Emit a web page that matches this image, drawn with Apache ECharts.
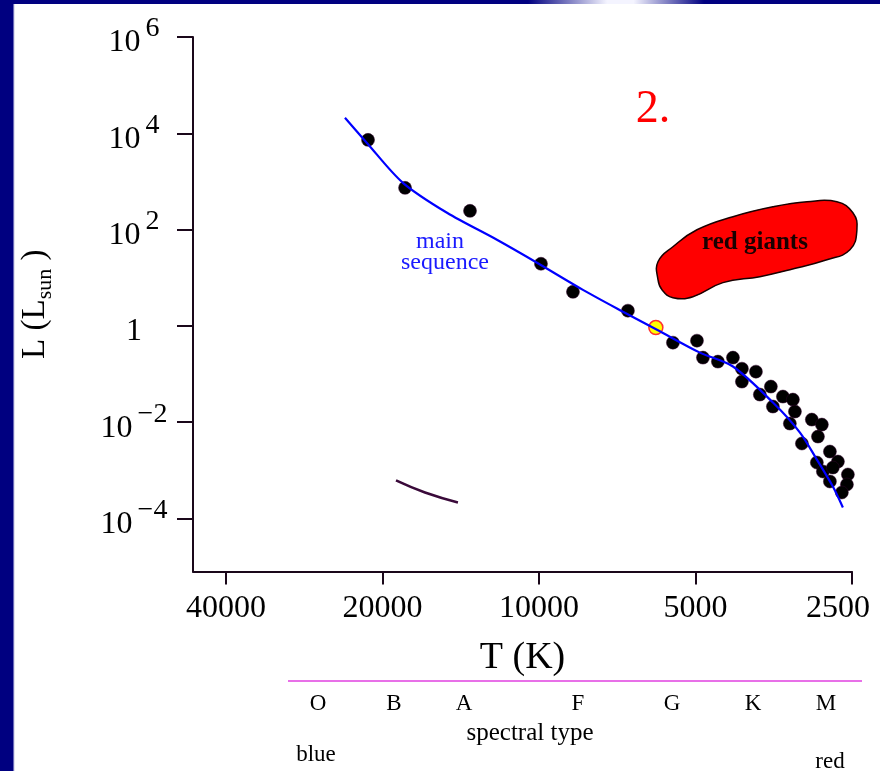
<!DOCTYPE html>
<html>
<head>
<meta charset="utf-8">
<script src="https://cdn.jsdelivr.net/npm/echarts@6/dist/echarts.min.js"></script>
<style>html,body{margin:0;padding:0;background:#fff}#c{width:880px;height:771px}</style>
</head>
<body>
<div id="c"></div>
<script>
// ---- data (temperature in K, luminosity in L_sun) ----
const xTicks = [40000, 20000, 10000, 5000, 2500];
const yTicks = [1e-4, 1e-2, 1, 1e2, 1e4, 1e6];
const xRange = [2500, 46300];
const yRange = [7.9e-6, 1e6];

const mainSeqT = [23620, 21430, 18270, 15030, 12050, 10090, 8232, 6895, 5930, 4903, 4236, 3548, 3148, 2921, 2721, 2603];
const mainSeqL = [21000, 6300, 935, 223, 61.4, 20.5, 5.6, 1.97, 0.83, 0.278, 0.143, 0.0255, 0.00608, 0.00167, 0.00046, 0.000169];

const starT = [21325, 18100, 13575, 9913, 8604, 6745, 5526, 4968, 4838, 4528, 4236, 4071, 3826, 4071, 3581, 3760, 3395, 3248, 3549, 3219, 2987, 2857, 3292, 2907, 3121, 2757, 2661, 2921, 2844, 2721, 2546, 2557, 2757, 2615];
const starL = [7300, 736, 245, 19.5, 5.1, 2.07, 0.448, 0.493, 0.219, 0.181, 0.219, 0.129, 0.112, 0.0695, 0.0548, 0.0374, 0.034, 0.0294, 0.0211, 0.0166, 0.0113, 0.0089, 0.00935, 0.00502, 0.0036, 0.00245, 0.00152, 0.00145, 0.000944, 0.00114, 0.000818, 0.000507, 0.000586, 0.000346];

const sunT = [5960];
const sunL = [0.92];

const giantsT = [5904, 5904, 5526, 4968, 4236, 3549, 3052, 2673, 2490, 2446, 2523, 2794, 3292, 3760, 4429, 5057, 5526, 5800];
const giantsL = [9.1, 21.5, 44, 99, 185, 297, 378, 378, 223, 99, 38, 23.6, 14.7, 10.5, 7.9, 4.04, 3.85, 5.6];

const dwarfT = [18840, 16570, 14320];
const dwarfL = [6.14e-4, 3.46e-4, 2.15e-4];

const spectralTypes = ['O', 'B', 'A', 'F', 'G', 'K', 'M'];

// ---- helpers ----
const lg = Math.log10;
const pairs = (T, L) => T.map((t, i) => [lg(t), lg(L[i])]);
const SERIF = '"Liberation Serif", "Times New Roman", serif';
const AX = '#1a081a';

const chart = echarts.init(document.getElementById('c'));

const spectralX = [318, 394, 464, 578, 672, 753, 826];

const option = {
  backgroundColor: '#ffffff',
  animation: false,
  grid: { left: 193, right: 28, top: 37, bottom: 199.5, containLabel: false, outerBoundsMode: 'none' },
  xAxis: {
    type: 'value', inverse: true,
    min: lg(xRange[0]), max: lg(xRange[1]),
    splitLine: { show: false },
    axisLine: { show: true, onZero: false, lineStyle: { color: AX, width: 2 } },
    axisTick: { show: true, inside: false, length: 13, lineStyle: { color: AX, width: 2 }, customValues: xTicks.map(lg) },
    axisLabel: {
      customValues: xTicks.map(lg), margin: 21,
      formatter: v => {
        const t = Math.round(Math.pow(10, v));
        return (t === xTicks[xTicks.length - 1] ? '{e|' : '{t|') + t + '}';
      },
      rich: {
        t: { fontFamily: SERIF, fontSize: 32, color: '#000' },
        e: { fontFamily: SERIF, fontSize: 32, color: '#000', padding: [0, 28, 0, 0] }
      }
    },
    name: 'T (K)', nameLocation: 'middle', nameGap: 68,
    nameTextStyle: { fontFamily: SERIF, fontSize: 38, color: '#000' }
  },
  yAxis: {
    type: 'value',
    min: lg(yRange[0]), max: lg(yRange[1]),
    splitLine: { show: false },
    axisLine: { show: true, onZero: false, lineStyle: { color: AX, width: 2 } },
    axisTick: { show: true, inside: false, length: 16, lineStyle: { color: AX, width: 2 }, customValues: yTicks.map(lg) },
    axisLabel: {
      customValues: yTicks.map(lg), margin: 59, align: 'center', padding: [12, 0, 0, 0],
      formatter: v => {
        const e = Math.round(v);
        if (e === 0) return '{b|1}';
        return '{b|10}{s|' + (e < 0 ? '\u2212' + (-e) : String(e)) + '}';
      },
      rich: {
        b: { fontFamily: SERIF, fontSize: 32, lineHeight: 32, color: '#000', verticalAlign: 'bottom' },
        s: { fontFamily: SERIF, fontSize: 28, lineHeight: 28, color: '#000', verticalAlign: 'bottom', padding: [0, 0, 16, 5] }
      }
    },
    name: '{n|L (L}{u|sun}{n| )}', nameLocation: 'middle', nameGap: 141, nameRotate: 90,
    nameTextStyle: {
      rich: {
        n: { fontFamily: SERIF, fontSize: 33, lineHeight: 40, color: '#000', verticalAlign: 'bottom' },
        u: { fontFamily: SERIF, fontSize: 22, lineHeight: 22, color: '#000', verticalAlign: 'bottom', padding: [0, 0, -4, 0] }
      }
    }
  },
  series: [
    {
      type: 'custom', name: 'red giants', z: 1, clip: false,
      data: [[lg(giantsT[0]), lg(giantsL[0])]],
      renderItem: (params, api) => {
        const pts = giantsT.map((t, i) => api.coord([lg(t), lg(giantsL[i])]));
        return {
          type: 'polygon',
          shape: { points: pts, smooth: 0.45 },
          style: { fill: '#ff0000', stroke: '#1a0000', lineWidth: 1.5 }
        };
      }
    },
    {
      type: 'line', name: 'dwarf', z: 2, smooth: true, symbol: 'none',
      data: pairs(dwarfT, dwarfL),
      lineStyle: { color: '#3a0a3a', width: 2.5 }
    },
    {
      type: 'scatter', name: 'stars', z: 3,
      symbol: 'circle', symbolSize: 13,
      itemStyle: { color: '#000000', borderColor: '#30002a', borderWidth: 0.5, opacity: 1 },
      data: pairs(starT, starL)
    },
    {
      type: 'scatter', name: 'Sun', z: 4,
      symbol: 'circle', symbolSize: 14,
      itemStyle: { color: '#ffff00', borderColor: '#ff3030', borderWidth: 1.5, opacity: 1 },
      data: pairs(sunT, sunL)
    },
    {
      type: 'line', name: 'main sequence', z: 5, smooth: 0.3, symbol: 'none',
      data: pairs(mainSeqT, mainSeqL),
      lineStyle: { color: '#0000ff', width: 2.2 }
    }
  ],
  graphic: [
    { type: 'rect', z: 100, shape: { x: 0, y: 0, width: 13, height: 771 }, style: { fill: '#000080' } },
    { type: 'rect', z: 100, shape: { x: 13, y: 0, width: 1.2, height: 771 }, style: { fill: '#6a6ab8' } },
    {
      type: 'rect', z: 100, shape: { x: 0, y: 0, width: 880, height: 4 },
      style: {
        fill: new echarts.graphic.LinearGradient(0, 0, 1, 0, [
          { offset: 0, color: '#000080' }, { offset: 0.6, color: '#000080' },
          { offset: 0.69, color: '#f4f4ff' }, { offset: 0.72, color: '#f4f4ff' },
          { offset: 0.8, color: '#000080' }, { offset: 1, color: '#000080' }
        ])
      }
    },
    { type: 'text', x: 653, y: 110, style: { text: '2.', fontFamily: SERIF, fontSize: 46, fill: '#ff0000', align: 'center', verticalAlign: 'middle' } },
    { type: 'text', x: 440, y: 242, style: { text: 'main', fontFamily: SERIF, fontSize: 24, fill: '#1a1aff', align: 'center', verticalAlign: 'middle' } },
    { type: 'text', x: 445, y: 263, style: { text: 'sequence', fontFamily: SERIF, fontSize: 24, fill: '#1a1aff', align: 'center', verticalAlign: 'middle' } },
    { type: 'text', z: 50, x: 755, y: 243, style: { text: 'red giants', fontFamily: SERIF, fontSize: 25, fontWeight: 'bold', fill: '#1a0000', align: 'center', verticalAlign: 'middle' } },
    { type: 'line', shape: { x1: 288, y1: 681, x2: 862, y2: 681 }, style: { stroke: '#e040e0', lineWidth: 1.5 } },
    ...spectralTypes.map((s, i) => ({
      type: 'text', x: spectralX[i], y: 704,
      style: { text: s, fontFamily: SERIF, fontSize: 23, fill: '#000', align: 'center', verticalAlign: 'middle' }
    })),
    { type: 'text', x: 530, y: 733, style: { text: 'spectral type', fontFamily: SERIF, fontSize: 25, fill: '#000', align: 'center', verticalAlign: 'middle' } },
    { type: 'text', x: 316, y: 755, style: { text: 'blue', fontFamily: SERIF, fontSize: 23, fill: '#000', align: 'center', verticalAlign: 'middle' } },
    { type: 'text', x: 830, y: 762, style: { text: 'red', fontFamily: SERIF, fontSize: 23, fill: '#000', align: 'center', verticalAlign: 'middle' } }
  ]
};

chart.setOption(option);
</script>
</body>
</html>
